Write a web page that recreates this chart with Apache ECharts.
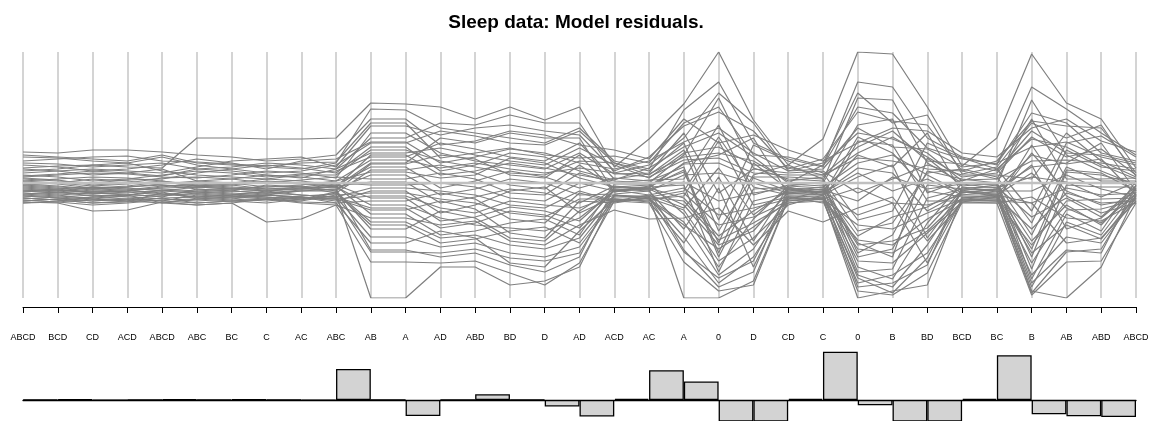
<!DOCTYPE html>
<html>
<head>
    <meta charset="UTF-8">
    <title>Sleep data: Model residuals.</title>
    <script src="https://cdn.jsdelivr.net/npm/echarts/dist/echarts.min.js"></script>
    <style>
        *{margin:0;padding:0;}
        body,html{width:100%;height:100%;background:#fff;}
        #main{width:1152px;height:421px;}
    </style>
</head>
<body>
<div id="main"></div>
<script>
    // order of the models along the horizontal axis
    var axisModels = ['ABCD','BCD','CD','ACD','ABCD','ABC','BC','C','AC','ABC','AB','A','AD','ABD','BD','D','AD',
        'ACD','AC','A','0','D','CD','C','0','B','BD','BCD','BC','B','AB','ABD','ABCD'];

    // residuals of each observation (44) under each model
    var resABCD = [15,28,31,22,10,6,18,26,4,12,20,-2,8,14,-12,2,-8,-1,-14,5,1,-4,-10,-16,-18,-20,-3,-15,-5,-11,-17,2,-19,-7,-13,-6,-15,-18,-2,-9,-20,-12,7,-8];
    var resBCD  = [17,26,30,24,12,8,16,25,2,14,19,0,6,12,-10,4,-6,-3,-12,3,-1,-6,-12,-14,-16,-18,-5,-17,-7,-9,-19,0,-20,-9,-15,-8,-17,-16,-4,-7,-19,-14,9,-10];
    var resCD   = [18,24,33,26,14,10,12,22,0,18,16,4,2,8,-8,6,-4,-6,-10,-2,-5,-10,-16,-12,-18,-14,-8,-20,-9,-6,-22,-3,-28,-13,-18,-4,-20,-14,-6,-10,-16,-16,12,-11];
    var resACD  = [16,22,33,27,12,9,14,20,3,20,18,2,4,10,-9,5,-5,-4,-11,0,-3,-8,-18,-14,-16,-12,-7,-19,-8,-7,-20,-1,-27,-12,-16,-6,-18,-16,-4,-12,-18,-13,10,-9];
    var resABC  = [45,20,28,21,16,5,24,18,10,8,14,-4,12,2,-8,-2,-10,2,-6,6,-3,0,-14,-18,-12,-16,-2,-20,-4,-14,-16,-3,-22,-9,-10,-8,-14,-20,-6,-16,-22,-11,14,-4];
    var resBC   = [45,18,26,19,22,8,20,14,14,6,12,-2,10,4,-6,0,-8,0,-8,4,-5,-2,-12,-16,-14,-18,-4,-18,-6,-12,-14,-1,-20,-11,-12,-10,-16,-18,-8,-14,-20,-13,16,-6];
    var resC    = [44,16,22,17,24,12,14,10,18,4,8,2,6,8,-4,4,-2,-4,-10,0,-7,-6,-8,-12,-16,-20,-6,-16,-8,-10,-12,1,-39,-14,-14,-12,-18,-16,-10,-12,-16,-15,20,-8];
    var resAC   = [44,14,24,20,26,10,22,12,15,8,5,0,9,6,-3,2,-4,-2,-8,3,-6,-4,-12,-14,-18,-16,-5,-14,-6,-12,-15,-1,-36,-16,-17,-8,-15,-19,-7,-14,-20,-13,18,-5];
    var resAB   = [80,74,64,60,57,50,41,40,36,33,30,28,26,23,19,16,13,11,8,4,1,-2,-5,-8,-10,-13,-15,-18,-22,-25,-27,-31,-35,-39,-42,-46,-54,-60,-67,-69,-79,-115,45,20];
    var resA    = [79,73,64,60,57,50,41,40,36,33,30,28,26,23,19,16,13,11,8,4,1,-2,-5,-8,-10,-13,-15,-18,-22,-25,-27,-31,-35,-39,-42,-46,-54,-60,-67,-69,-79,-115,45,20];
    var resAD   = [76,55,38,25,48,30,20,52,12,22,35,8,40,15,28,-5,18,5,-12,10,-20,0,-8,-30,-16,-25,-38,-10,-35,-45,-18,-52,-42,-55,-60,-28,-64,-48,-74,-70,-80,-84,60,45];
    var resABD  = [64,50,42,30,55,22,26,47,18,16,28,12,34,20,24,2,10,8,-6,4,-14,-4,-12,-22,-20,-30,-34,-16,-42,-40,-26,-48,-38,-52,-56,-35,-60,-55,-70,-66,-78,-84,58,40];
    var resBD   = [76,45,52,35,58,18,34,40,30,10,22,20,26,14,8,12,-2,25,4,-10,-6,-15,-22,-8,-30,-18,-24,-36,-45,-28,-50,-40,-58,-62,-48,-55,-70,-80,-82,-75,-90,-102,68,50];
    var resD    = [63,40,48,28,52,14,30,38,26,8,18,15,22,10,5,6,-6,20,0,-12,-10,-18,-25,-4,-34,-22,-28,-40,-48,-32,-55,-36,-62,-66,-44,-58,-74,-84,-89,-78,-102,-98,60,45];
    var res0    = [131,101,40,76,71,-10,55,-37,50,-48,36,85,30,25,20,-70,-74,-60,10,58,-18,-89,-32,46,-42,42,-53,-57,-62,15,-78,-84,-25,-92,-66,6,-100,-5,-104,-95,-108,-115,90,28];
    var resB    = [129,96,55,70,62,4,36,-28,44,-40,52,83,46,22,28,-52,-66,-74,-8,64,6,-86,-20,30,-46,38,-34,-62,-58,10,-80,-96,-14,-104,-70,18,-92,-20,-100,-110,-112,-108,60,16];

    // change of the fit statistic between neighbouring models (bars)
    var stepValues = [0.3,0.6,-0.3,0,0.6,0.3,0.6,0,-0.5,31,0,-16,0,5.7,0.3,-6.5,
        -16.5,1.3,29.7,18.5,-26.5,-23,1.3,48.3,-5.3,-21.5,-24.5,1.3,44.7,-14.3,-16.3,-17];

    var residuals = {
        'ABCD':resABCD,'BCD':resBCD,'CD':resCD,'ACD':resACD,'ABC':resABC,'BC':resBC,'C':resC,'AC':resAC,
        'AB':resAB,'A':resA,'AD':resAD,'ABD':resABD,'BD':resBD,'D':resD,'0':res0,'B':resB
    };

    var font = 'Liberation Sans, Arial, Helvetica, sans-serif';
    var series = [];
    for (var k = 0; k < resABCD.length; k++) {
        series.push({
            type:'line',
            xAxisIndex:0,
            yAxisIndex:0,
            data: axisModels.map(function (m) { return residuals[m][k]; }),
            symbol:'none',
            silent:true,
            z:2,
            lineStyle:{color:'#7f7f7f', width:1.2}
        });
    }
    // light zero line, on its own layer above the residual lines
    series.push({
        type:'line',
        xAxisIndex:0,
        yAxisIndex:0,
        data: axisModels.map(function () { return 0; }),
        symbol:'none',
        silent:true,
        zlevel:1,
        z:4,
        lineStyle:{color:'#c0c0c0', width:2.5}
    });

    series.push({
        type:'bar',
        xAxisIndex:1,
        yAxisIndex:1,
        data: stepValues,
        barCategoryGap:'0%',
        silent:true,
        itemStyle:{color:'#d3d3d3', borderColor:'#000', borderWidth:1.3}
    });

    var chart = echarts.init(document.getElementById('main'));
    chart.setOption({
        animation:false,
        backgroundColor:'#fff',
        title:{
            text:'Sleep data: Model residuals.',
            left:'center',
            top:8,
            textStyle:{fontSize:19, fontWeight:'bold', fontFamily:font, color:'#000'}
        },
        grid:[
            {left:23, right:16, top:52, bottom:123},
            {left:23, right:16, top:351, bottom:0}
        ],
        xAxis:[
            {
                gridIndex:0,
                type:'category',
                data:axisModels,
                boundaryGap:false,
                offset:9,
                axisLine:{show:true, onZero:false, lineStyle:{color:'#000', width:1}},
                axisTick:{show:true, length:6, interval:0, lineStyle:{color:'#000', width:1}},
                axisLabel:{show:true, interval:0, margin:26, fontSize:9, fontFamily:font, color:'#000'},
                splitLine:{show:true, interval:0, lineStyle:{color:'#c6c6c6', width:1.5}}
            },
            {
                gridIndex:1,
                type:'category',
                data:stepValues.map(function (v, i) { return i; }),
                boundaryGap:true,
                axisLine:{show:true, onZero:true, lineStyle:{color:'#000', width:1.3}},
                axisTick:{show:false},
                axisLabel:{show:false},
                splitLine:{show:false}
            }
        ],
        yAxis:[
            {gridIndex:0, type:'value', min:-115, max:131, show:false},
            {gridIndex:1, type:'value', min:-21, max:49, show:false}
        ],
        series:series
    });
</script>
</body>
</html>
